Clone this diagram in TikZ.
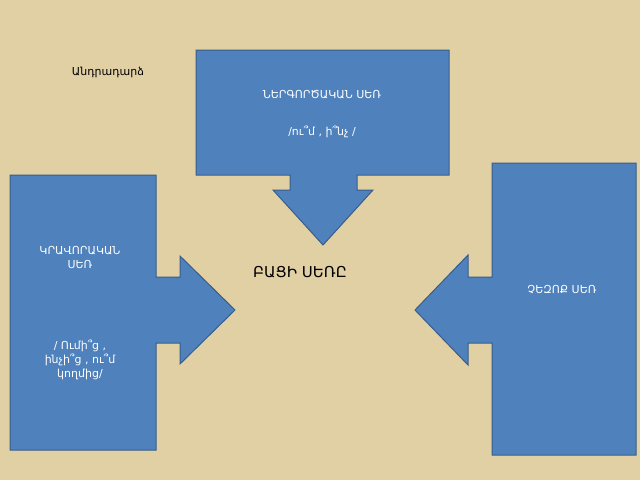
\documentclass[tikz,border=0pt]{standalone}
\usepackage{fontspec}
\setmainfont{DejaVu Sans}
\definecolor{parch}{RGB}{226,208,165}
\definecolor{callblue}{RGB}{79,129,189}
\definecolor{calledge}{RGB}{56,93,138}
\begin{document}
\begin{tikzpicture}[x=1pt,y=-1pt,
    callout/.style={fill=callblue, draw=calledge, line width=1pt},
    wlabel/.style={text=white, font=\fontsize{11}{14}\selectfont, align=center}]
    \fill[parch] (0,0) rectangle (640,480);
    \useasboundingbox (0,0) rectangle (640,480);
    % top callout, arrow down
    \draw[callout] (196,50) -- (449,50) -- (449,175) -- (357,175) -- (357,190) -- (373,190)
        -- (323,245) -- (273,190) -- (290,190) -- (290,175) -- (196,175) -- cycle;
    % left callout, arrow right
    \draw[callout] (10,175) -- (156,175) -- (156,277) -- (180,277) -- (180,256) -- (235,310)
        -- (180,364) -- (180,343) -- (156,343) -- (156,450) -- (10,450) -- cycle;
    % right callout, arrow left
    \draw[callout] (636,163) -- (492,163) -- (492,277) -- (468,277) -- (468,255) -- (415,310)
        -- (468,365) -- (468,343) -- (492,343) -- (492,455) -- (636,455) -- cycle;
    \node[wlabel] (act) at (322,95) {ՆԵՐԳՈՐԾԱԿԱՆ  ՍԵՌ};
    \node[wlabel] (actq) at (322,132) {/ու՞մ ,  ի՞նչ /};
    \node[wlabel] (pass) at (80,257) {ԿՐԱՎՈՐԱԿԱՆ\\ՍԵՌ};
    \node[wlabel] (passq) at (80,360) {/ Ումի՞ց ,\\ինչի՞ց , ու՞մ\\կողմից/};
    \node[wlabel] (neut) at (562,290) {ՉԵԶՈՔ  ՍԵՌ};
    \node[font=\fontsize{15}{18}\selectfont] (verb) at (300,272) {ԲԱՑԻ ՍԵՌԸ};
    \node[font=\fontsize{11}{14}\selectfont] (refl) at (108,72) {Անդրադարձ};
\end{tikzpicture}
\end{document}
